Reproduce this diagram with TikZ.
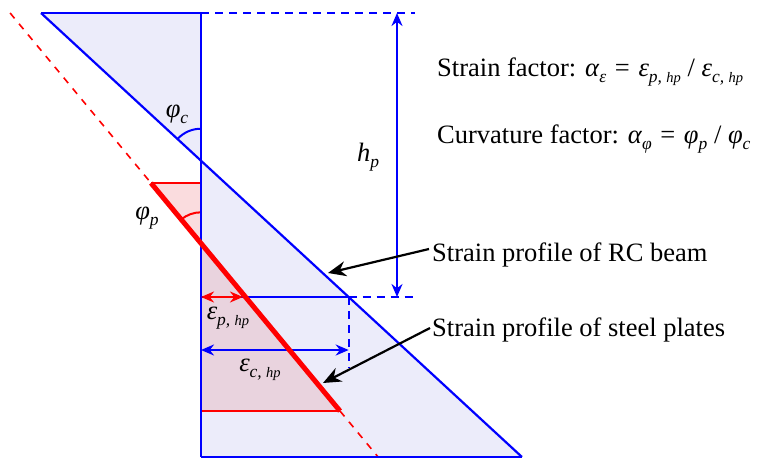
\documentclass[tikz,border=0pt]{standalone}
\usepackage{fontspec}
\setmainfont{Liberation Serif}
\usetikzlibrary{arrows.meta}
\newcommand{\mysub}[1]{\raisebox{-0.22em}{\fontsize{17.5}{17.5}\selectfont\itshape #1}}
\newcommand{\mysubb}[1]{{\fontsize{14.5}{14.5}\selectfont\itshape #1}}
\newcommand{\myeq}{\ \hspace{2pt}=\ \hspace{2pt}}
\definecolor{lav}{RGB}{236,236,250}
\definecolor{pinkf}{RGB}{250,220,222}
\definecolor{mauve}{RGB}{233,211,222}
\definecolor{bl}{RGB}{0,0,255}
\definecolor{rd}{RGB}{255,0,0}
\begin{document}
\begin{tikzpicture}[x=1pt,y=-1pt,
  bline/.style={draw=bl,line width=2.2pt},
  bdash/.style={draw=bl,line width=1.6pt,dash pattern=on 8pt off 6pt},
  rline/.style={draw=rd,line width=2.2pt},
  rdash/.style={draw=rd,line width=1.6pt,dash pattern=on 7pt off 7pt},
  barrow/.style={draw=bl,line width=2.2pt,{Stealth[length=13pt,width=11pt]}-{Stealth[length=13pt,width=11pt]}},
  rarrow/.style={draw=rd,line width=2.2pt,{Stealth[length=13pt,width=11pt]}-{Stealth[length=13pt,width=11pt]}},
  karrow/.style={draw=black,line width=2.2pt,-{Stealth[length=18pt,width=15pt]}},
  lbl/.style={font=\fontsize{26.5}{30}\selectfont,inner sep=0pt},
  txt/.style={font=\fontsize{26.5}{30}\selectfont,inner sep=0pt,anchor=west}]
\useasboundingbox (0,0) rectangle (764,459);
% coordinates
\coordinate (A) at (41,13);
\coordinate (T) at (201,13);
\coordinate (C) at (201,160.7);
\coordinate (B) at (201,457);
\coordinate (Br) at (522,457);
\coordinate (H) at (348.7,297);
\coordinate (H0) at (201,297);
\coordinate (Td) at (415,13);
\coordinate (Hd) at (415,297);
\coordinate (Hv) at (348.7,368);
\coordinate (E0) at (201,350);
\coordinate (E1) at (348.7,350);
\coordinate (P1) at (243,297);
\coordinate (R0) at (10.1,13);
\coordinate (R1) at (151,183);
\coordinate (R1b) at (201,183);
\coordinate (R2) at (201,243.3);
\coordinate (R3) at (340,411);
\coordinate (R3b) at (201,411);
\coordinate (R4) at (378.1,457);
\coordinate (HT) at (397,13);
\coordinate (HB) at (397,297);
\coordinate (tip1) at (328,273);
\coordinate (tip2) at (323,383);
% fills
\fill[lav] (A) -- (T) -- (C) -- cycle;
\fill[lav] (C) -- (Br) -- (B) -- cycle;
\fill[pinkf] (R1) -- (R1b) -- (R2) -- cycle;
\fill[mauve] (R2) -- (R3) -- (R3b) -- cycle;
% red
\draw[rdash] (R0) -- (R1);
\draw[rdash] (R3) -- (R4);
\draw[rline] (R1) -- (R1b);
\draw[rline] (R3b) -- (R3);
\draw[draw=rd,line width=2pt] ([shift={(0,-31)}]R2) arc[start angle=-90,end angle=-129.7,radius=31];
% blue
\draw[bline] (A) -- (T);
\draw[bline] (A) -- (Br);
\draw[bline] (B) -- (Br);
\draw[bline] (T) -- (B);
\draw[bline] (H0) -- (H);
\draw[bdash] (T) -- (Td);
\draw[bdash] (H) -- (Hd);
\draw[bdash] (H) -- (Hv);
\draw[draw=bl,line width=2pt] ([shift={(0,-32)}]C) arc[start angle=-90,end angle=-137.3,radius=32];
\draw[barrow] (HT) -- (HB);
\draw[barrow] (E0) -- (E1);
\draw[draw=rd,line width=5pt] (R1) -- (R3);
\draw[rarrow] (H0) -- (P1);
% labels
\node[lbl] (phic) at (177,114) {\textit{φ}\mysub{c}};
\node[lbl] (phip) at (147,218) {\textit{φ}\mysub{p}};
\node[lbl] (hp) at (368,157) {\textit{h}\mysub{p}};
\node[lbl] (ep) at (228,318) {\textit{ε}\mysub{p, \mysubb{hp}}};
\node[lbl] (ec) at (260,370) {\textit{ε}\mysub{c, \mysubb{hp}}};
\node[txt] (sf) at (437,72) {Strain factor: \textit{α}\mysub{ε}\myeq\textit{ε}\mysub{p, \mysubb{hp}} / \textit{ε}\mysub{c, \mysubb{hp}}};
\node[txt] (cf) at (437,139) {Curvature factor: \textit{α}\mysub{φ}\myeq\textit{φ}\mysub{p} / \textit{φ}\mysub{c}};
\node[txt] (rc) at (432,255) {Strain profile of RC beam};
\node[txt] (sp) at (432,330) {Strain profile of steel plates};
\draw[karrow] ([shift={(-3,-6)}]rc.west) -- (tip1);
\draw[karrow] ([shift={(-2,-2)}]sp.west) -- (tip2);
\end{tikzpicture}
\end{document}
